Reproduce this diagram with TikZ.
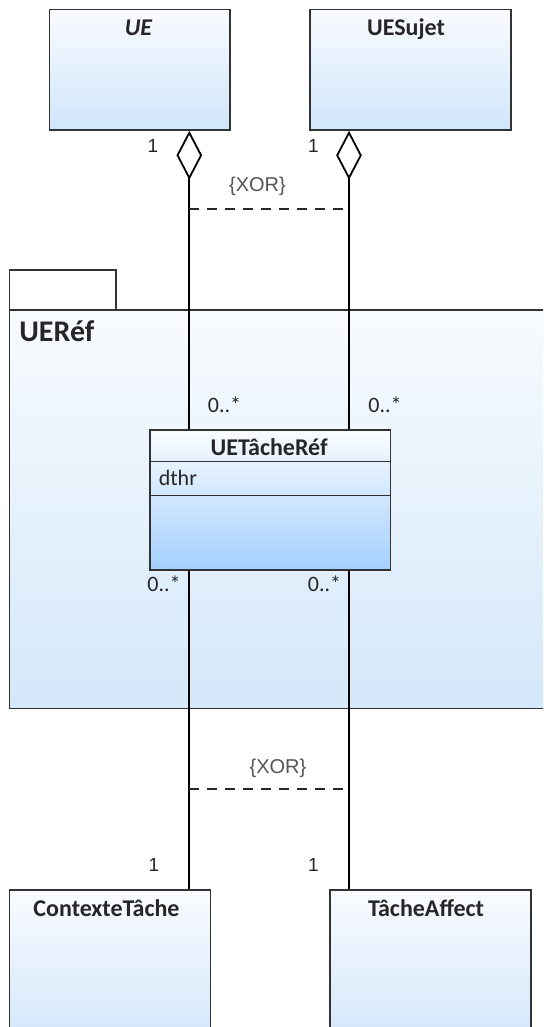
\documentclass[tikz,border=0pt]{standalone}
\usepackage{fontspec}
\setmainfont{Carlito}
\newfontfamily\arialfont{Liberation Sans}
\usepackage{xcolor}
\usetikzlibrary{arrows.meta,calc}
\definecolor{boxline}{HTML}{333333}
\definecolor{boxtop}{HTML}{F9FBFE}
\definecolor{boxbot}{HTML}{D0E6FB}
\definecolor{reftop}{HTML}{FAFCFF}
\definecolor{refbot}{HTML}{A3CFFD}
\definecolor{pkgtop}{HTML}{F8FBFE}
\definecolor{pkgbot}{HTML}{D4E8FA}
\definecolor{xorgray}{HTML}{555555}
\definecolor{txt}{HTML}{262626}
\tikzset{
  umlbox/.style={draw=boxline, line width=0.75pt, top color=boxtop, bottom color=boxbot, anchor=north west, inner sep=0pt},
  boxname/.style={font=\fontsize{12}{14}\selectfont\bfseries, text=txt, anchor=base, inner sep=0pt},
  mult/.style={font=\fontsize{11}{13}\selectfont, text=txt, anchor=base, inner sep=0pt},
  one/.style={font=\arialfont\fontsize{9.5}{11}\selectfont, text=txt, anchor=base, inner sep=0pt},
  xornote/.style={font=\arialfont\fontsize{10}{12}\selectfont, text=xorgray, anchor=base, inner sep=0pt},
  assoc/.style={line width=0.9pt, draw=black},
  agg/.style={assoc, {Diamond[open, length=24.5pt, width=12.8pt]}-},
  xorline/.style={line width=0.9pt, draw=black!85, dash pattern=on 5pt off 4pt},
}
\begin{document}
\begin{tikzpicture}[x=0.5pt,y=-0.5pt]
\clip (0,0) rectangle (543,1027);
\fill[white] (0,0) rectangle (543,1027);
\coordinate (colL) at (189.3,0);
\coordinate (colR) at (349,0);
\coordinate (xorA) at (0,209);
\coordinate (xorB) at (0,789.3);
\node[umlbox, fill=white, top color=white, bottom color=white, minimum width=53.15pt, minimum height=20pt] (tab) at (8.7,269) {};
\node[umlbox, top color=pkgtop, bottom color=pkgbot, minimum width=300pt, minimum height=199.35pt] (pkg) at (8.7,309) {};
\node[font=\fontsize{15}{18}\selectfont\bfseries, text=txt, anchor=base west, inner sep=0pt] (pkgname) at (19,341.7) {UERéf};
\node[umlbox, minimum width=90.25pt, minimum height=60.15pt] (ue) at (48.5,9) {};
\node[umlbox, minimum width=100.5pt, minimum height=60.15pt] (uesujet) at (309,9) {};
\node[umlbox, top color=reftop, bottom color=refbot, minimum width=120.25pt, minimum height=70.15pt] (ref) at (149,429) {};
\node[umlbox, minimum width=100.4pt, minimum height=80pt] (ctx) at (8.7,889.3) {};
\node[umlbox, minimum width=100.5pt, minimum height=80pt] (affect) at (329,889.3) {};
\draw[agg] (ue.south -| colL) -- (ref.north -| colL);
\draw[agg] (uesujet.south -| colR) -- (ref.north -| colR);
\draw[assoc] (ref.south -| colL) -- (ctx.north -| colL);
\draw[assoc] (ref.south -| colR) -- (affect.north -| colR);
\draw[xorline] (xorA -| colL) -- (xorA -| colR);
\draw[xorline] (xorB -| colL) -- (xorB -| colR);
\draw[draw=boxline, line width=0.75pt] (ref.west |- 0,461.7) -- (ref.east |- 0,461.7);
\draw[draw=boxline, line width=0.75pt] (ref.west |- 0,495.7) -- (ref.east |- 0,495.7);
\node[boxname, font=\fontsize{12}{14}\selectfont\bfseries\itshape] (uename) at (138.5,36) {UE};
\node[boxname] (uesujetname) at (406,36) {UESujet};
\node[boxname] (refname) at (269.2,455) {UETâcheRéf};
\node[mult, anchor=base west] (refattr) at (158.4,485.7) {dthr};
\node[boxname] (ctxname) at (106.5,916.7) {ContexteTâche};
\node[boxname] (affectname) at (426,916.7) {TâcheAffect};
\node[one] (oneUE) at (153,152.5) {1};
\node[one] (oneSujet) at (313.5,152.5) {1};
\node[xornote] (xorTop) at (257.5,192) {\{XOR\}};
\node[mult] (manyL) at (224.5,412.3) {0..*};
\node[mult] (manyR) at (385,412.3) {0..*};
\node[mult] (manyCtx) at (164,591.7) {0..*};
\node[mult] (manyAffect) at (324.5,591.7) {0..*};
\node[xornote] (xorBottom) at (278,773) {\{XOR\}};
\node[one] (oneCtx) at (154,871.7) {1};
\node[one] (oneAffect) at (313.5,871.7) {1};
\end{tikzpicture}
\end{document}
